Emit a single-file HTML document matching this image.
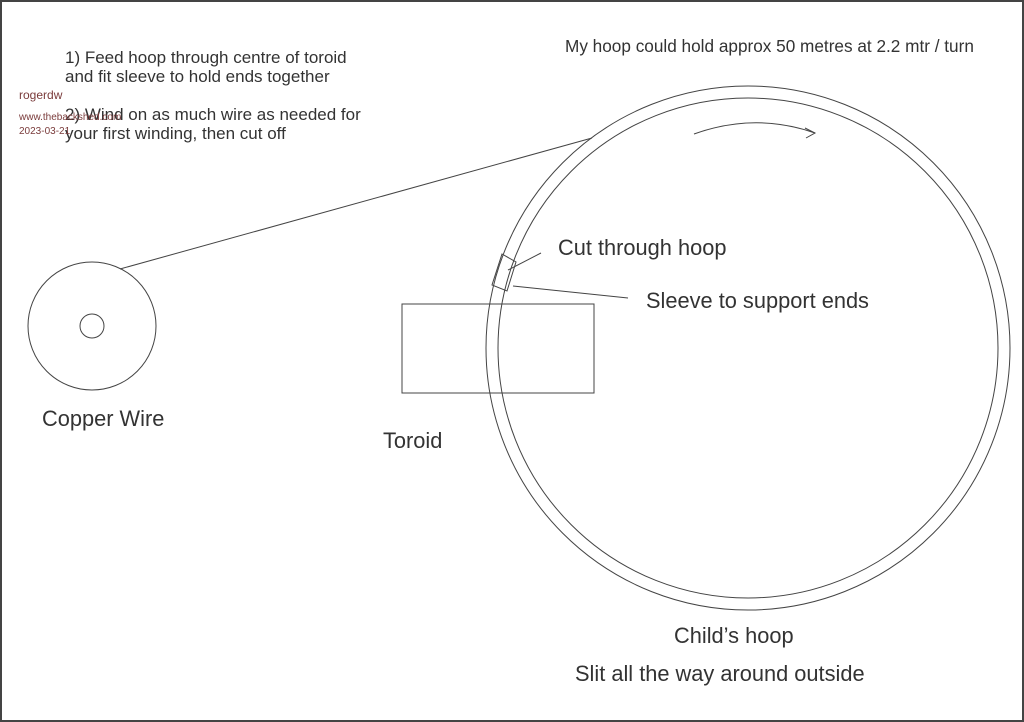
<!DOCTYPE html>
<html><head><style>
body{margin:0;background:#fff}
svg{display:block}
text{font-family:"Liberation Sans",sans-serif;fill:#333}
</style></head><body>
<svg width="1024" height="722" viewBox="0 0 1024 722">
<rect x="1" y="1" width="1022" height="720" fill="#fff" stroke="#444" stroke-width="2"/>
<g fill="none" stroke="#444" stroke-width="1">
<circle cx="748" cy="348" r="262"/>
<circle cx="748" cy="348" r="250"/>
<circle cx="92" cy="326" r="64"/>
<circle cx="92" cy="326" r="12"/>
<line x1="120" y1="269" x2="592" y2="138"/>
<rect x="402" y="304" width="192" height="89"/>
<polygon points="502,254 516,262 507,291 492,285"/>
<line x1="508" y1="270" x2="541" y2="253"/>
<line x1="513" y1="286" x2="628" y2="298"/>
<path d="M694,134 Q755,112 815,133"/>
<path d="M805,128 L815,133 L806,138"/>
</g>
<text x="65" y="63" font-size="17">1) Feed hoop through centre of toroid</text>
<text x="65" y="82" font-size="17">and fit sleeve to hold ends together</text>
<text x="65" y="120" font-size="17">2) Wind on as much wire as needed for</text>
<text x="65" y="139" font-size="17">your first winding, then cut off</text>
<text x="19" y="99" font-size="12" style="fill:#7a3b3b">rogerdw</text>
<text x="19" y="120" font-size="10" style="fill:#7a3b3b">www.thebackshed.com</text>
<text x="19" y="134" font-size="10" style="fill:#7a3b3b">2023-03-21</text>
<text x="565" y="52" font-size="17.2">My hoop could hold approx 50 metres at 2.2 mtr / turn</text>
<text x="558" y="255" font-size="21.8">Cut through hoop</text>
<text x="646" y="308" font-size="21.8">Sleeve to support ends</text>
<text x="42" y="426" font-size="21.8">Copper Wire</text>
<text x="383" y="448" font-size="21.8">Toroid</text>
<text x="674" y="643" font-size="21.8">Child’s hoop</text>
<text x="575" y="681" font-size="21.8">Slit all the way around outside</text>
</svg>
</body></html>
